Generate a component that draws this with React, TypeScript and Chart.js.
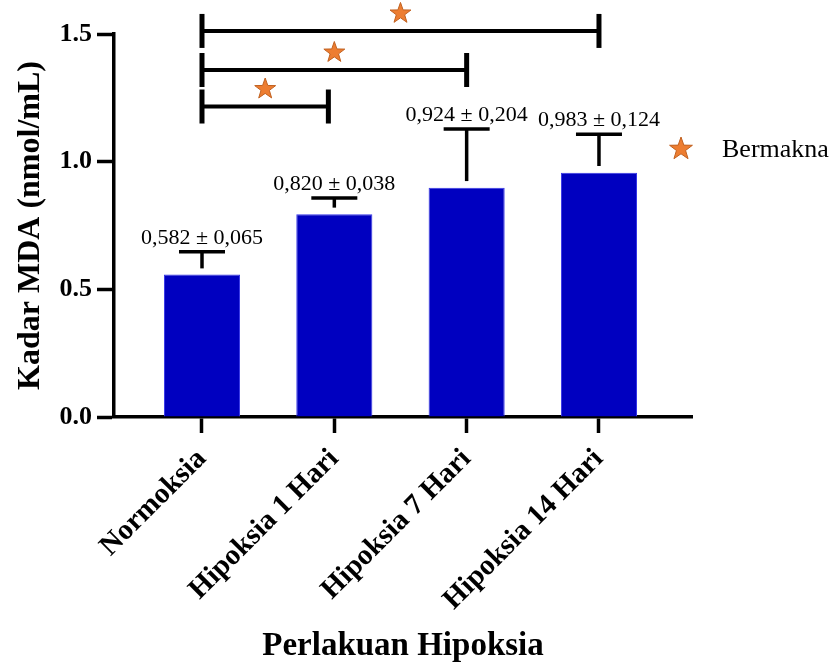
import React, { useEffect, useRef } from 'react';
import { Chart, registerables } from 'chart.js';

Chart.register(...registerables);

// ---- data ----
const categories = ['Normoksia', 'Hipoksia 1 Hari', 'Hipoksia 7 Hari', 'Hipoksia 14 Hari'];
const barHeights = [0.558, 0.794, 0.898, 0.957];
const means = [0.582, 0.82, 0.924, 0.983];
const sds = [0.065, 0.038, 0.204, 0.124];
const yTicks = [0, 0.5, 1.0, 1.5];
const compareFrom = [0, 0, 0];
const compareTo = [0.955, 2, 3];
const bracketLevels = [1.216, 1.359, 1.512];
const legendLabel = 'Bermakna';
const xTitle = 'Perlakuan Hipoksia';
const yTitle = 'Kadar MDA (nmol/mL)';

const SERIF = '"Liberation Serif", "Times New Roman", Times, serif';
const STAR_FILL = '#ED7D31';
const STAR_STROKE = '#C0601F';

const fmt = (v: number) => v.toFixed(3).replace('.', ',');

function drawStar(ctx: CanvasRenderingContext2D, cx: number, cy: number, R: number) {
  const r = R * 0.4;
  ctx.beginPath();
  for (let k = 0; k < 10; k++) {
    const rad = k % 2 === 0 ? R : r;
    const a = -Math.PI / 2 + (k * Math.PI) / 5;
    const px = cx + rad * Math.cos(a);
    const py = cy + rad * Math.sin(a);
    if (k === 0) ctx.moveTo(px, py);
    else ctx.lineTo(px, py);
  }
  ctx.closePath();
  ctx.fillStyle = STAR_FILL;
  ctx.fill();
  ctx.lineWidth = 1;
  ctx.strokeStyle = STAR_STROKE;
  ctx.stroke();
}

const annotate = {
  id: 'annotate',
  afterDatasetsDraw(chart: any) {
    const { ctx, scales, chartArea } = chart;
    const x = scales.x;
    const y = scales.y;
    ctx.save();
    ctx.lineCap = 'butt';

    // error bars + value labels
    means.forEach((m, i) => {
      const px = x.getPixelForValue(i);
      const y0 = y.getPixelForValue(m);
      const y1 = y.getPixelForValue(m + sds[i]);
      ctx.strokeStyle = '#000';
      ctx.lineWidth = 3.5;
      ctx.beginPath();
      ctx.moveTo(px, y0);
      ctx.lineTo(px, y1);
      ctx.stroke();
      ctx.beginPath();
      ctx.moveTo(px - 23, y1);
      ctx.lineTo(px + 23, y1);
      ctx.stroke();
      ctx.fillStyle = '#000';
      ctx.font = `22px ${SERIF}`;
      ctx.textAlign = 'center';
      ctx.textBaseline = 'alphabetic';
      ctx.fillText(`${fmt(m)} ± ${fmt(sds[i])}`, px, y1 - 8);
    });

    // significance brackets
    bracketLevels.forEach((lv, k) => {
      const x0 = x.getPixelForValue(compareFrom[k]);
      const x1 = x.getPixelForValue(compareTo[k]);
      const py = y.getPixelForValue(lv);
      ctx.strokeStyle = '#000';
      ctx.lineWidth = 4;
      ctx.beginPath();
      ctx.moveTo(x0, py);
      ctx.lineTo(x1, py);
      ctx.stroke();
      ctx.lineWidth = 5;
      [x0, x1].forEach((xx) => {
        ctx.beginPath();
        ctx.moveTo(xx, py - 17);
        ctx.lineTo(xx, py + 17);
        ctx.stroke();
      });
      drawStar(ctx, (x0 + x1) / 2, py - 17.5, 11);
    });

    // legend
    const lx = chartArea.right - 11;
    const ly = chartArea.top + 115;
    drawStar(ctx, lx, ly, 12);
    ctx.fillStyle = '#000';
    ctx.font = `26px ${SERIF}`;
    ctx.textAlign = 'left';
    ctx.textBaseline = 'alphabetic';
    ctx.fillText(legendLabel, chartArea.right + 30, chartArea.top + 123);

    ctx.restore();
  },
};

export default function App() {
  const ref = useRef<HTMLCanvasElement | null>(null);

  useEffect(() => {
    if (!ref.current) return;
    const chart = new Chart(ref.current, {
      type: 'bar',
      data: {
        datasets: [
          {
            data: barHeights.map((v, i) => ({ x: i, y: v })),
            backgroundColor: '#0000C0',
            borderColor: '#3535E8',
            borderWidth: 1,
            barPercentage: 0.575,
            categoryPercentage: 1,
          } as any,
        ],
      },
      options: {
        responsive: false,
        animation: false,
        layout: { padding: { top: 34, right: 140, left: 0, bottom: 0 } },
        plugins: {
          legend: { display: false },
          tooltip: { enabled: false },
        },
        scales: {
          x: {
            type: 'linear',
            offset: false,
            min: -0.665,
            max: 3.703,
            afterBuildTicks: (s: any) => {
              s.ticks = categories.map((_, i) => ({ value: i }));
            },
            afterFit: (s: any) => {
              s.height = 249;
            },
            ticks: {
              autoSkip: false,
              minRotation: 45,
              maxRotation: 45,
              padding: 1,
              color: '#000',
              font: { family: SERIF, weight: 'bold', size: 29, lineHeight: 2.0 },
              callback: (v: any) => categories[v as number] ?? '',
            },
            grid: {
              offset: false,
              drawOnChartArea: false,
              tickLength: 16,
              tickWidth: 3.5,
              tickColor: '#000',
            },
            border: { color: '#000', width: 3.5 },
            title: {
              display: true,
              text: xTitle,
              color: '#000',
              font: { family: SERIF, weight: 'bold', size: 33 },
              padding: { top: 0, bottom: 0 },
            },
          },
          y: {
            min: 0,
            max: 1.5,
            afterBuildTicks: (s: any) => {
              s.ticks = yTicks.map((v) => ({ value: v }));
            },
            afterFit: (s: any) => {
              s.width = 114;
            },
            ticks: {
              padding: 5,
              color: '#000',
              font: { family: SERIF, weight: 'bold', size: 26 },
              callback: (v: any) => Number(v).toFixed(1),
            },
            grid: {
              drawOnChartArea: false,
              tickLength: 17,
              tickWidth: 3.5,
              tickColor: '#000',
            },
            border: { color: '#000', width: 3.5 },
            title: {
              display: true,
              text: yTitle,
              color: '#000',
              font: { family: SERIF, weight: 'bold', size: 32 },
              padding: { top: 12, bottom: 0 },
            },
          },
        },
      } as any,
      plugins: [annotate],
    });
    return () => chart.destroy();
  }, []);

  return (
    <div style={{ position: 'absolute', left: 0, top: 0, width: 832, height: 666, background: '#fff' }}>
      <canvas ref={ref} width={832} height={666} />
    </div>
  );
}
